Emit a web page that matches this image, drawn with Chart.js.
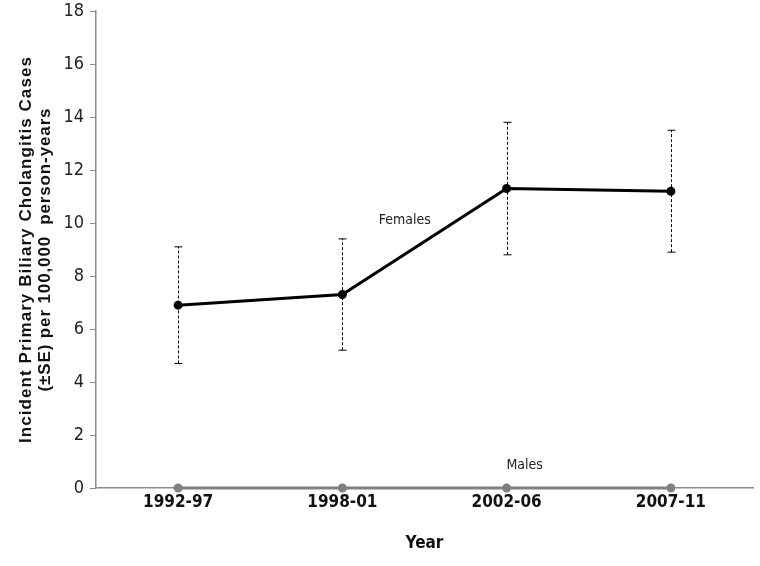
<!DOCTYPE html>
<html>
<head>
<meta charset="utf-8">
<script src="https://cdn.jsdelivr.net/npm/chart.js@4/dist/chart.umd.min.js"></script>
<style>
  html, body { margin: 0; padding: 0; background: #fff; }
  #wrap { width: 760px; height: 566px; }
</style>
</head>
<body>
<div id="wrap"><canvas id="myChart"></canvas></div>
<script>
(() => {
	'use strict'

	const periods = ['1992-97', '1998-01', '2002-06', '2007-11']
	const females = [6.9, 7.3, 11.3, 11.2]
	const femalesLow = [4.7, 5.2, 8.8, 8.9]
	const femalesHigh = [9.1, 9.4, 13.8, 13.5]
	const males = [0, 0, 0, 0]
	const yTicks = [0, 2, 4, 6, 8, 10, 12, 14, 16, 18]
	const yTitle = ['Incident Primary Biliary Cholangitis Cases', '(\u00b1SE) per 100,000  person-years']

	// where the series names sit, as (category index, value)
	const seriesLabels = [
		{ text: 'Females', x: 1.38, y: 10.1 },
		{ text: 'Males', x: 2.11, y: 0.85 }
	]

	const narrow = "'Liberation Sans Narrow', 'DejaVu Sans Condensed', Arial, sans-serif"

	// dashed error bars, in-plot series names and the spaced-out y title
	const extras = {
		id: 'extras',
		afterDatasetsDraw(chart) {
			const { ctx, scales: { x, y } } = chart
			ctx.save()
			ctx.strokeStyle = '#000'
			ctx.lineWidth = 1
			femalesLow.forEach((lo, i) => {
				const px = Math.round(x.getPixelForValue(i)) + 0.5
				const yLo = y.getPixelForValue(lo)
				const yHi = y.getPixelForValue(femalesHigh[i])
				ctx.setLineDash([3, 2])
				ctx.beginPath()
				ctx.moveTo(px, yLo)
				ctx.lineTo(px, yHi)
				ctx.stroke()
				ctx.setLineDash([])
				ctx.beginPath()
				ctx.moveTo(px - 4, yLo)
				ctx.lineTo(px + 4, yLo)
				ctx.moveTo(px - 4, yHi)
				ctx.lineTo(px + 4, yHi)
				ctx.stroke()
			})
			ctx.fillStyle = '#222'
			ctx.font = "14px " + narrow
			ctx.textAlign = 'center'
			ctx.textBaseline = 'middle'
			seriesLabels.forEach(l => {
				ctx.fillText(l.text, x.getPixelForValue(l.x), y.getPixelForValue(l.y))
			})

			// y title, two rotated lines stretched to the reference length
			const midY = (y.top + y.bottom) / 2
			const lens = [387, 284]
			const xs = [26, 45]
			ctx.font = "bold 17px 'Liberation Sans', Arial, sans-serif"
			ctx.fillStyle = '#111'
			yTitle.forEach((t, i) => {
				ctx.letterSpacing = '0px'
				const w = ctx.measureText(t).width
				const sp = Math.max(0, (lens[i] - w) / t.length)
				ctx.letterSpacing = sp.toFixed(2) + 'px'
				ctx.save()
				ctx.translate(xs[i], midY)
				ctx.rotate(-Math.PI / 2)
				ctx.fillText(t, 0, 0)
				ctx.restore()
			})
			ctx.letterSpacing = '0px'
			ctx.restore()
		}
	}

	const ctx = document.getElementById('myChart')
	// eslint-disable-next-line no-unused-vars
	const myChart = new Chart(ctx, {
		type: 'line',
		data: {
			labels: periods,
			datasets: [{
				label: 'Males',
				data: males,
				lineTension: 0,
				borderColor: '#808080',
				borderWidth: 3,
				pointBackgroundColor: '#808080',
				pointBorderColor: '#808080',
				pointRadius: 3,
				clip: false
			}, {
				label: 'Females',
				data: females,
				lineTension: 0,
				borderColor: '#000',
				borderWidth: 3,
				pointBackgroundColor: '#000',
				pointBorderColor: '#000',
				pointRadius: 3
			}]
		},
		options: {
			responsive: true,
			maintainAspectRatio: false,
			animation: false,
			layout: { padding: { top: 11, right: 0, left: 0, bottom: 8 } },
			plugins: {
				legend: { display: false },
				tooltip: { enabled: false }
			},
			scales: {
				x: {
					offset: true,
					grid: { display: false, drawTicks: false, offset: true },
					border: { color: '#8c8c8c', width: 1.5 },
					ticks: {
						color: '#111',
						padding: 4,
						font: { family: narrow, size: 17, weight: 'bold' }
					},
					title: {
						display: true,
						text: 'Year',
						color: '#111',
						padding: { top: 16 },
						font: { family: narrow, size: 17, weight: 'bold' }
					},
					afterFit(scale) {
						scale.height = 70
						scale.paddingLeft = 0
						scale.paddingRight = 0
					}
				},
				y: {
					min: 0,
					max: 18,
					afterBuildTicks(scale) { scale.ticks = yTicks.map(v => ({ value: v })) },
					grid: {
						drawOnChartArea: false,
						drawTicks: true,
						tickLength: 6,
						color: '#8c8c8c'
					},
					border: { color: '#8c8c8c', width: 1.5 },
					ticks: {
						color: '#222',
						padding: 6,
						font: { family: narrow, size: 18 }
					},
					afterFit(scale) {
						scale.width = 96
						scale.paddingTop = 0
						scale.paddingBottom = 0
					}
				}
			}
		},
		plugins: [extras]
	})
})()
</script>
</body>
</html>
